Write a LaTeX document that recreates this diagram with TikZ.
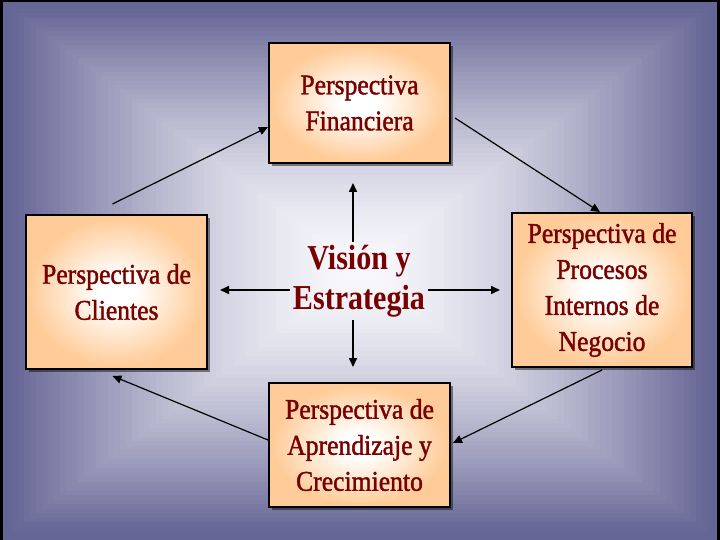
\documentclass[tikz,border=0pt]{standalone}
\usepackage{fontspec}
\setmainfont{Liberation Serif}
\newfontfamily\boxfont{Liberation Serif}[FakeBold=1.4,FakeStretch=0.9]
\newfontfamily\visfont{Liberation Serif}[FakeStretch=0.86]
\usetikzlibrary{arrows.meta,shadows}
\definecolor{SlateEdge}{RGB}{102,102,150}
\definecolor{SlateMid}{RGB}{248,248,252}
\definecolor{Peach}{RGB}{255,204,153}
\definecolor{DarkWine}{RGB}{120,0,0}
\pgfdeclareradialshading{peachglow}{\pgfpoint{0bp}{0bp}}{color(0bp)=(white);color(5bp)=(white);color(24bp)=(Peach);color(50bp)=(Peach)}
\tikzset{
  perspbox/.style={draw=black,line width=2pt,shading=peachglow,
    drop shadow={shadow xshift=3pt,shadow yshift=-3pt,fill=black,opacity=.45},
    align=center,text=DarkWine,inner sep=4pt,
    font=\boxfont\fontsize{28.5}{36}\selectfont},
  cyclearrow/.style={->,line width=1.2pt},
  spoke/.style={->,line width=1.6pt}
}

\begin{document}
\begin{tikzpicture}[x=1pt,y=-1pt,>={Triangle[length=9pt,width=8pt]}]
      \useasboundingbox (0,0) rectangle (720,540);
      % background, box shaped gradient
      \foreach \k in {0,...,59}{
        \pgfmathsetmacro{\s}{1-\k/60}
        \pgfmathtruncatemacro{\p}{min(100,105*\s^1.5)}
        \fill[SlateEdge!\p!SlateMid] (360-360*\s,270-270*\s) rectangle (360+360*\s,270+270*\s);
      }
      \draw[line width=2.5pt] (1.25,540) -- (1.25,1.25) -- (718.5,1.25) -- (718.5,540);

      \node[perspbox,minimum width=181pt,minimum height=120pt] (fin) at (359.5,103) {Perspectiva\\Financiera};
      \node[perspbox,minimum width=181pt,minimum height=154pt] (cli) at (116.5,292) {Perspectiva de\\Clientes};
      \node[perspbox,minimum width=180pt,minimum height=154pt] (pro) at (602,290) {Perspectiva de\\Procesos\\Internos de\\Negocio};
      \node[perspbox,minimum width=181pt,minimum height=124pt] (apr) at (359.5,445) {Perspectiva de\\Aprendizaje y\\Crecimiento};
      \node[text=DarkWine,align=center,inner sep=3pt,
        font=\visfont\bfseries\fontsize{35}{40}\selectfont] (vis) at (359,281) {Visión y\\Estrategia};

      % spokes from the centre
      \coordinate (tipN) at (353,183);
      \coordinate (tipS) at (353,367);
      \coordinate (tipW) at (220,290);
      \coordinate (tipE) at (500,290);
      \draw[spoke] ([xshift=-6pt]vis.north) -- (tipN);
      \draw[spoke] ([xshift=-6pt]vis.south) -- (tipS);
      \draw[spoke] ([yshift=-9pt]vis.west) -- (tipW);
      \draw[spoke] ([yshift=-9pt]vis.east) -- (tipE);

      % the cycle
      \draw[cyclearrow] ([shift={(-4pt,10pt)}]cli.north) -- ([yshift=-24pt]fin.west);
      \draw[cyclearrow] ([shift={(4pt,-15pt)}]fin.east) -- ([xshift=-2pt]pro.north);
      \draw[cyclearrow] ([yshift=-2pt]pro.south) -- ([shift={(2pt,2pt)}]apr.east);
      \draw[cyclearrow] ([yshift=5pt]apr.west) -- ([shift={(-4pt,-6pt)}]cli.south);
    \end{tikzpicture}
\end{document}
